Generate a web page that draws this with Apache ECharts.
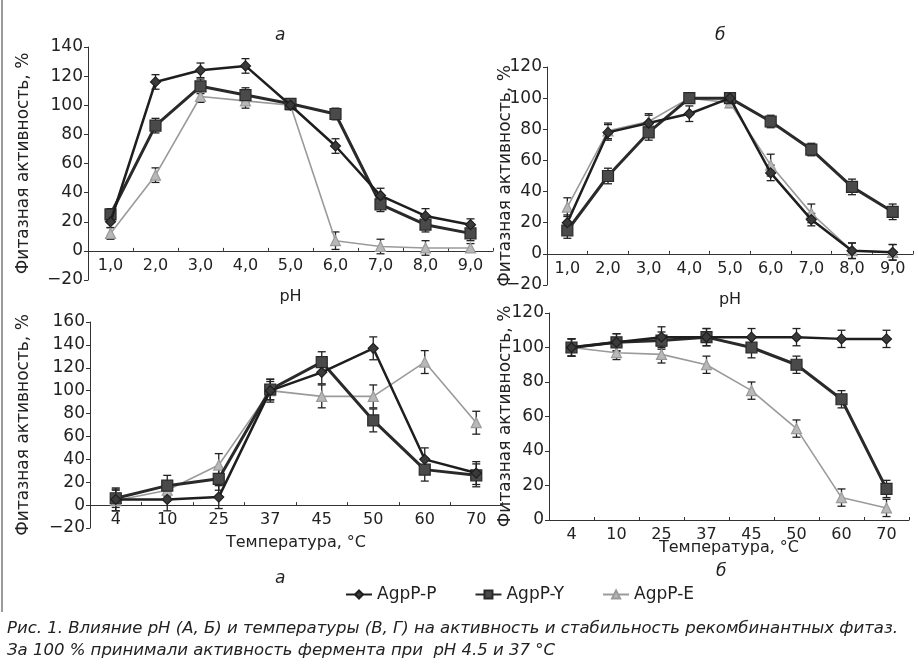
<!DOCTYPE html>
<html><head><meta charset="utf-8">
<script src="https://cdn.jsdelivr.net/npm/echarts@6/dist/echarts.min.js"></script>
<style>html,body{margin:0;padding:0;background:#fff}#c{width:918px;height:670px}</style>
</head><body><div id="c"></div>
<script>
const phCats = ['1,0','2,0','3,0','4,0','5,0','6,0','7,0','8,0','9,0'];
const tempCats = ['4','10','25','37','45','50','60','70'];
const seriesNames = ['AgpP-P','AgpP-Y','AgpP-E'];

// Panel а (pH, activity)
const aP = [20,116,124,127,100,72,38,24,18];
const aY = [25,86,113,107,101,94,32,18,12];
const aE = [12,52,106,103,100,7,3,2,2];
const aPerr = [4,5,5,5,3,5,5,5,4];
const aYerr = [4,5,5,5,3,4,5,5,5];
const aEerr = [4,5,4,5,3,6,5,5,3];

// Panel б (pH, stability)
const bP = [20,78,84,90,100,52,22,2,1];
const bY = [15,50,78,100,100,85,67,43,27];
const bE = [30,79,85,100,97,57,26,2,1];
const bPerr = [5,5,5,5,3,5,4,5,5];
const bYerr = [5,5,5,3,3,4,4,5,5];
const bEerr = [6,5,5,3,3,7,6,5,5];

// Panel в (temperature, activity)
const cP = [5,5,7,100,116,137,40,28];
const cY = [6,17,23,101,125,74,31,26];
const cE = [4,13,35,100,95,95,125,72];
const cPerr = [10,10,10,10,10,10,10,10];
const cYerr = [8,9,10,9,9,10,10,10];
const cEerr = [9,8,10,8,10,10,10,10];

// Panel г (temperature, stability)
const dP = [100,103,106,106,106,106,105,105];
const dY = [100,103,104,106,100,90,70,18];
const dE = [100,97,96,90,75,53,13,7];
const dPerr = [5,5,6,5,5,5,5,5];
const dYerr = [5,5,5,5,6,5,5,5];
const dEerr = [5,4,5,5,5,5,5,5];

const FONT = 'DejaVu Sans';
const styles = {
  'AgpP-P': {color:'#1e1e1e', width:2.5, symbol:'diamond', size:10, fill:'#3a3a3a'},
  'AgpP-Y': {color:'#2a2a2a', width:3, symbol:'rect', size:11, fill:'#4a4a4a'},
  'AgpP-E': {color:'#9a9a9a', width:1.6, symbol:'triangle', size:10, fill:'#b8b8b8'}
};

const grids = [
  {left:88, top:47, width:405, height:233},
  {left:547, top:67, width:366, height:218},
  {left:90, top:322, width:412, height:206},
  {left:549, top:313, width:360, height:207}
];
const yCfg = [
  {min:-20, max:140, gap:56},
  {min:-20, max:120, gap:33},
  {min:-20, max:160, gap:58},
  {min:0, max:120, gap:35}
];
const xCfg = [
  {cats:phCats, name:'pH', gap:38},
  {cats:phCats, name:'pH', gap:38},
  {cats:tempCats, name:'Температура, °C', gap:30},
  {cats:tempCats, name:'Температура, °C', gap:20}
];
const panelData = [
  [[aP,aPerr],[aY,aYerr],[aE,aEerr]],
  [[bP,bPerr],[bY,bYerr],[bE,bEerr]],
  [[cP,cPerr],[cY,cYerr],[cE,cEerr]],
  [[dP,dPerr],[dY,dYerr],[dE,dEerr]]
];

// place the category axis on the zero line of the value axis
const zeroOffset = i => -grids[i].height * (0 - yCfg[i].min) / (yCfg[i].max - yCfg[i].min);

const xAxis = xCfg.map((c,i)=>({
  type:'category', gridIndex:i, data:c.cats, boundaryGap:true, position:'bottom',
  offset: zeroOffset(i),
  name:c.name, nameLocation:'middle', nameGap:c.gap, nameMoveOverlap:false,
  nameTextStyle:{fontFamily:FONT, fontSize:16, color:'#222'},
  axisLine:{show:true, onZero:false, lineStyle:{color:'#333', width:1}},
  axisTick:{show:true, inside:true, length:3, lineStyle:{color:'#333'}},
  axisLabel:{show:true, fontFamily:FONT, fontSize:16, color:'#222', margin:7, interval:0},
  splitLine:{show:false}
}));
const yAxis = yCfg.map((c,i)=>({
  type:'value', gridIndex:i, min:c.min, max:c.max, interval:20,
  name:'Фитазная активность, %', nameLocation:'middle', nameGap:c.gap, nameMoveOverlap:false,
  nameTextStyle:{fontFamily:FONT, fontSize:17, color:'#222'},
  axisLine:{show:true, onZero:false, lineStyle:{color:'#333', width:1}},
  axisTick:{show:true, length:4, lineStyle:{color:'#333'}},
  axisLabel:{fontFamily:FONT, fontSize:17, color:'#222', margin:5,
    formatter: v => v < 0 ? '\u2212' + Math.abs(v) : String(v)},
  splitLine:{show:false}
}));

const series = [];
panelData.forEach((panel, gi)=>{
  panel.forEach((pair, si)=>{
    const name = seriesNames[si];
    const st = styles[name];
    const vals = pair[0], errs = pair[1];
    series.push({
      type:'line', name:name, xAxisIndex:gi, yAxisIndex:gi, z:3 + (2-si),
      data: vals, symbol:st.symbol, symbolSize:st.size, showSymbol:true,
      lineStyle:{color:st.color, width:st.width},
      itemStyle:{color:st.fill, borderColor:st.color, borderWidth:1.2},
      animation:false
    });
    series.push({
      type:'custom', name:name + ' ошибка', xAxisIndex:gi, yAxisIndex:gi, z:2,
      silent:true,
      data: vals.map((v,k)=>[k, v, errs[k]]),
      encode:{x:0, y:1},
      renderItem:(params, api)=>{
        const x = api.value(0), y = api.value(1), e = api.value(2);
        const hi = api.coord([x, y+e]);
        const lo = api.coord([x, y-e]);
        const cap = 4;
        const ls = {stroke:'#222', lineWidth:1.3};
        return {type:'group', children:[
          {type:'line', shape:{x1:hi[0], y1:hi[1], x2:lo[0], y2:lo[1]}, style:ls},
          {type:'line', shape:{x1:hi[0]-cap, y1:hi[1], x2:hi[0]+cap, y2:hi[1]}, style:ls},
          {type:'line', shape:{x1:lo[0]-cap, y1:lo[1], x2:lo[0]+cap, y2:lo[1]}, style:ls}
        ]};
      }
    });
  });
});

const capStyle = {fontFamily:FONT, fontSize:16.5, fontStyle:'italic', fontWeight:'normal', color:'#222'};
const option = {
  backgroundColor:'#ffffff',
  animation:false,
  grid: grids,
  xAxis, yAxis, series,
  title:[
    {text:'а', left:270, top:22, textStyle:{...capStyle, fontSize:17}},
    {text:'б', left:710, top:22, textStyle:{...capStyle, fontSize:17}},
    {text:'а', left:270, top:565, textStyle:{...capStyle, fontSize:17}},
    {text:'б', left:711, top:558, textStyle:{...capStyle, fontSize:17}},
    {text:'Рис. 1. Влияние рН (А, Б) и температуры (В, Г) на активность и стабильность рекомбинантных фитаз.', left:2, top:615, textStyle:capStyle},
    {text:'За 100 % принимали активность фермента при  рН 4.5 и 37 °С', left:2, top:637, textStyle:capStyle}
  ],
  legend:{
    data:seriesNames, left:340, top:581, itemGap:38, itemWidth:26, itemHeight:10,
    textStyle:{fontFamily:FONT, fontSize:17, color:'#222'}
  },
  graphic:[
    {type:'line', shape:{x1:2, y1:0, x2:2, y2:612}, style:{stroke:'#9a9a9a', lineWidth:2}, silent:true}
  ]
};
const chart = echarts.init(document.getElementById('c'), null, {renderer:'canvas'});
chart.setOption(option);
</script></body></html>
